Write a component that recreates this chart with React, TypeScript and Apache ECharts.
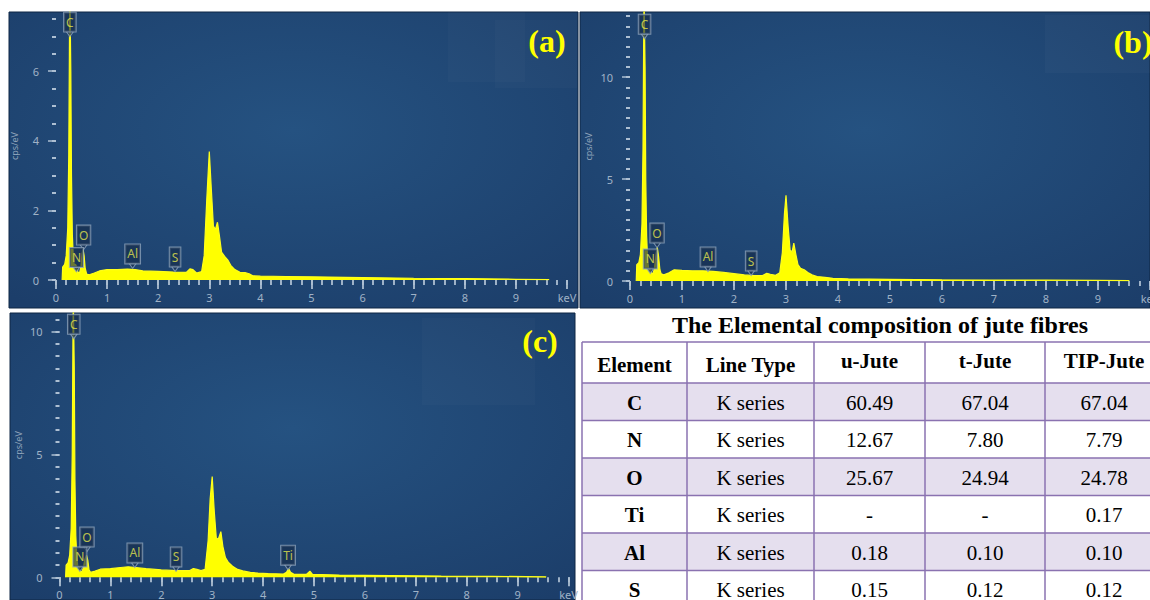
import React, { useEffect, useRef } from 'react';
import * as echarts from 'echarts';

// ---------------- data ----------------
// EDS spectra: [energy keV, counts cps/eV]
const spectrumA: [number, number][] = [
  [0.12, 0], [0.13, 0.37], [0.17, 0.45], [0.2, 0.7], [0.23, 1.5], [0.25, 3.6], [0.262, 6.5],
  [0.27, 8.5], [0.28, 8.5], [0.29, 6.0], [0.303, 3.0], [0.32, 1.3], [0.34, 0.6], [0.36, 0.42],
  [0.385, 0.45], [0.41, 0.35], [0.43, 0.22], [0.46, 0.2], [0.49, 0.4], [0.51, 0.75], [0.53, 0.88],
  [0.55, 0.7], [0.57, 0.35], [0.6, 0.17], [0.65, 0.15], [0.75, 0.2], [0.85, 0.26], [1.0, 0.3],
  [1.2, 0.3], [1.4, 0.31], [1.55, 0.3], [1.7, 0.26], [2.0, 0.25], [2.3, 0.23], [2.55, 0.22],
  [2.62, 0.32], [2.68, 0.3], [2.75, 0.2], [2.85, 0.24], [2.9, 0.7], [2.95, 2.3], [3.0, 3.69],
  [3.04, 2.6], [3.08, 1.55], [3.12, 1.45], [3.16, 1.66], [3.2, 1.25], [3.24, 0.8], [3.3, 0.68],
  [3.36, 0.58], [3.42, 0.42], [3.5, 0.3], [3.6, 0.22], [3.7, 0.21], [3.78, 0.18], [3.85, 0.12],
  [4.0, 0.11], [4.5, 0.1], [5.0, 0.09], [6.0, 0.07], [7.0, 0.05], [8.0, 0.04], [9.0, 0.02],
  [9.65, 0.01], [9.66, 0],
];
const spectrumB: [number, number][] = [
  [0.12, 0], [0.13, 0.8], [0.17, 0.9], [0.2, 1.3], [0.23, 2.8], [0.25, 6.5], [0.262, 11.5],
  [0.27, 14], [0.28, 14], [0.29, 10.5], [0.303, 5.0], [0.32, 2.2], [0.34, 1.0], [0.36, 0.6],
  [0.385, 0.55], [0.41, 0.4], [0.44, 0.35], [0.47, 0.6], [0.5, 1.3], [0.525, 1.65], [0.55, 1.2],
  [0.575, 0.55], [0.6, 0.35], [0.65, 0.3], [0.75, 0.4], [0.85, 0.55], [1.0, 0.52], [1.2, 0.5],
  [1.4, 0.5], [1.6, 0.47], [1.8, 0.42], [2.0, 0.36], [2.2, 0.3], [2.4, 0.26], [2.55, 0.27],
  [2.63, 0.38], [2.7, 0.33], [2.8, 0.28], [2.88, 0.4], [2.93, 1.4], [2.97, 3.3], [3.0, 4.2],
  [3.04, 2.7], [3.08, 1.5], [3.12, 1.45], [3.15, 1.86], [3.19, 1.3], [3.23, 0.8], [3.28, 0.62],
  [3.35, 0.55], [3.42, 0.42], [3.5, 0.3], [3.6, 0.22], [3.75, 0.18], [3.9, 0.13], [4.2, 0.1],
  [5.0, 0.08], [6.0, 0.06], [7.0, 0.05], [8.0, 0.04], [9.0, 0.03], [9.6, 0.02], [9.61, 0],
];
const spectrumC: [number, number][] = [
  [0.12, 0], [0.13, 0.5], [0.17, 0.6], [0.2, 0.9], [0.23, 2.0], [0.25, 5.0], [0.262, 9.0],
  [0.27, 11.5], [0.28, 11.5], [0.29, 8.5], [0.303, 4.0], [0.32, 1.7], [0.34, 0.8], [0.36, 0.45],
  [0.385, 0.4], [0.41, 0.25], [0.44, 0.22], [0.47, 0.4], [0.5, 0.75], [0.53, 0.9], [0.555, 0.7],
  [0.58, 0.3], [0.61, 0.2], [0.7, 0.25], [0.8, 0.33], [1.0, 0.35], [1.2, 0.4], [1.35, 0.43],
  [1.5, 0.4], [1.7, 0.35], [2.0, 0.3], [2.3, 0.27], [2.55, 0.27], [2.63, 0.36], [2.7, 0.32],
  [2.78, 0.27], [2.86, 0.32], [2.92, 1.5], [2.96, 3.2], [3.0, 4.1], [3.04, 2.7], [3.08, 1.6],
  [3.12, 1.55], [3.17, 1.86], [3.21, 1.25], [3.26, 0.8], [3.32, 0.6], [3.4, 0.45], [3.5, 0.32],
  [3.6, 0.26], [3.75, 0.2], [3.9, 0.17], [4.1, 0.15], [4.4, 0.13], [4.46, 0.2], [4.5, 0.36],
  [4.54, 0.2], [4.6, 0.13], [4.85, 0.12], [4.92, 0.25], [4.97, 0.12], [5.5, 0.09], [6.5, 0.07],
  [7.5, 0.05], [8.5, 0.04], [9.55, 0.02], [9.56, 0],
];

// peak marker labels: [energy keV, label centre height cps/eV]
const peaksA = [
  { name: 'C', value: [0.272, 7.41] }, { name: 'N', value: [0.4, 0.65] }, { name: 'O', value: [0.54, 1.29] },
  { name: 'Al', value: [1.5, 0.75] }, { name: 'S', value: [2.33, 0.66] },
];
const peaksB = [
  { name: 'C', value: [0.28, 12.6] }, { name: 'N', value: [0.39, 1.08] }, { name: 'O', value: [0.52, 2.35] },
  { name: 'Al', value: [1.5, 1.18] }, { name: 'S', value: [2.33, 0.98] },
];
const peaksC = [
  { name: 'C', value: [0.28, 10.3] }, { name: 'N', value: [0.4, 0.83] }, { name: 'O', value: [0.54, 1.64] },
  { name: 'Al', value: [1.48, 0.99] }, { name: 'S', value: [2.29, 0.83] }, { name: 'Ti', value: [4.49, 0.9] },
];

const xMajorTicks = [0, 1, 2, 3, 4, 5, 6, 7, 8, 9, 10];
const yMajorA = [0, 2, 4, 6];
const yMajorB = [0, 5, 10];
const yMajorC = [0, 5, 10];
const panelTags = ['(a)', '(b)', '(c)'];

// table
const tableTitle = 'The Elemental composition of jute fibres';
const tableHeader = ['Element', 'Line Type', 'u-Jute', 't-Jute', 'TIP-Jute'];
const elements = ['C', 'N', 'O', 'Ti', 'Al', 'S'];
const lineTypes = ['K series', 'K series', 'K series', 'K series', 'K series', 'K series'];
const uJute = ['60.49', '12.67', '25.67', '-', '0.18', '0.15'];
const tJute = ['67.04', '7.80', '24.94', '-', '0.10', '0.12'];
const tipJute = ['67.04', '7.79', '24.78', '0.17', '0.10', '0.12'];

// ---------------- helpers ----------------
function steps(max: number, step: number) {
  const out: number[] = [];
  for (let i = 0; i * step <= max + 1e-9; i++) out.push(+(i * step).toFixed(2));
  return out;
}

const tickColor = '#adbfd2';
const labelColor = '#a0b3c7';
const sans = 'Noto Sans';
const serif = '"Liberation Serif", "Times New Roman", serif';

const panels = [
  { rect: [9, 12, 569, 296], grid: { left: 56, top: 12, width: 511, height: 268 }, yMax: 7.7, yMajor: yMajorA, yMinorTop: 7.5, data: spectrumA, peaks: peaksA, tag: [547, 41] },
  { rect: [580, 12, 570, 296], grid: { left: 630, top: 12, width: 520, height: 269 }, yMax: 13.2, yMajor: yMajorB, yMinorTop: 13, data: spectrumB, peaks: peaksB, tag: [1133, 42] },
  { rect: [10, 313, 565, 287], grid: { left: 59.5, top: 313, width: 509, height: 264.3 }, yMax: 10.76, yMajor: yMajorC, yMinorTop: 10.5, data: spectrumC, peaks: peaksC, tag: [540, 341] },
];

function buildOption() {
  const grid = panels.map((p) => ({ ...p.grid, containLabel: false, outerBoundsMode: 'none' }));
  const xAxis: any[] = [];
  const yAxis: any[] = [];
  const series: any[] = [];
  const xMinor = steps(10, 0.2);

  panels.forEach((p, i) => {
    xAxis.push(
      {
        type: 'value', gridIndex: i, min: 0, max: 10, position: 'bottom', offset: 1,
        axisLine: { show: false }, splitLine: { show: false },
        axisTick: { show: true, customValues: xMajorTicks, length: 9, lineStyle: { color: tickColor, width: 1.8 } },
        axisLabel: {
          show: true, customValues: xMajorTicks, margin: 11, color: labelColor, fontSize: 11, fontFamily: sans,
          formatter: (v: number) => (v === 10 ? 'keV' : String(v)),
        },
      },
      {
        type: 'value', gridIndex: i, min: 0, max: 10, position: 'bottom', offset: 1,
        axisLine: { show: false }, splitLine: { show: false },
        axisTick: { show: true, customValues: xMinor, length: 5, lineStyle: { color: tickColor, width: 1.8 } },
        axisLabel: { show: false },
      },
    );
    yAxis.push(
      {
        type: 'value', gridIndex: i, min: 0, max: p.yMax, position: 'left', offset: 7,
        axisLine: { show: false }, splitLine: { show: false },
        axisTick: { show: true, customValues: p.yMajor, length: 8, lineStyle: { color: tickColor, width: 1.5 } },
        axisLabel: { show: true, customValues: p.yMajor, margin: 10, color: labelColor, fontSize: 11, fontFamily: sans },
        name: 'cps/eV', nameLocation: 'middle', nameGap: 30, nameRotate: 90,
        nameTextStyle: { color: '#8fa4bb', fontSize: 9, fontFamily: sans },
      },
      {
        type: 'value', gridIndex: i, min: 0, max: p.yMax, position: 'left', offset: 7,
        axisLine: { show: false }, splitLine: { show: false },
        axisTick: { show: true, customValues: steps(p.yMinorTop, 0.5), length: 4, lineStyle: { color: tickColor, width: 2 } },
        axisLabel: { show: false },
      },
    );
    series.push(
      {
        type: 'line', xAxisIndex: 2 * i, yAxisIndex: 2 * i, data: p.data, symbol: 'none', showSymbol: false,
        lineStyle: { color: '#ffff1a', width: 1.2 }, areaStyle: { color: '#ffff00', opacity: 1 },
        clip: true, z: 3, silent: true,
      },
      {
        type: 'scatter', xAxisIndex: 2 * i, yAxisIndex: 2 * i, data: p.peaks, symbol: 'triangle',
        symbolRotate: 180, symbolSize: [7, 5], symbolOffset: [0, 12], clip: false,
        itemStyle: { color: '#1c3556', borderColor: '#8ea4bc', borderWidth: 1 }, z: 4, silent: true,
      },
      {
        type: 'scatter', xAxisIndex: 2 * i, yAxisIndex: 2 * i, data: p.peaks, symbol: 'rect', symbolSize: 1, clip: false,
        itemStyle: { color: 'rgba(0,0,0,0)' }, z: 5, silent: true,
        label: {
          show: true, position: 'inside', formatter: '{b}', color: '#e6e64c', fontSize: 12, fontFamily: sans,
          backgroundColor: 'rgba(22,44,74,0.8)', borderColor: '#8ea4bc', borderWidth: 1, padding: [4, 2, 3, 2],
        },
      },
    );
  });

  const graphics: any[] = [];
  panels.forEach((p, i) => {
    const [x, y, w, h] = p.rect;
    graphics.push({
      type: 'rect', z: -10, silent: true, shape: { x, y, width: w, height: h },
      style: {
        fill: {
          type: 'radial', x: 0.5, y: 0.4, r: 0.75,
          colorStops: [{ offset: 0, color: '#255281' }, { offset: 1, color: '#1c3e6a' }],
        },
        stroke: '#0f2744', lineWidth: 1,
      },
    });
    graphics.push({
      type: 'text', z: 100, silent: true, x: p.tag[0], y: p.tag[1],
      style: { text: panelTags[i], font: `bold 32px ${serif}`, fill: '#ffff00', textAlign: 'center', textVerticalAlign: 'middle' },
    });
  });
  // faint patches at top right of panels
  graphics.push(
    { type: 'rect', z: -9, silent: true, shape: { x: 448, y: 12, width: 77, height: 70 }, style: { fill: 'rgba(255,255,255,0.02)' } },
    { type: 'rect', z: -9, silent: true, shape: { x: 495, y: 20, width: 82, height: 68 }, style: { fill: 'rgba(255,255,255,0.02)' } },
    { type: 'rect', z: -9, silent: true, shape: { x: 1045, y: 15, width: 105, height: 58 }, style: { fill: 'rgba(255,255,255,0.025)' } },
    { type: 'rect', z: -9, silent: true, shape: { x: 422, y: 318, width: 113, height: 87 }, style: { fill: 'rgba(255,255,255,0.02)' } },
  );

  // table
  const colX = [582, 687, 814, 925, 1045, 1163];
  const rowY = [342, 383, 420.5, 458, 495.5, 533, 570.5, 608];
  const border = '#8a72b0';
  graphics.push({
    type: 'text', x: 880, y: 325, silent: true,
    style: { text: tableTitle, font: `bold 24px ${serif}`, fill: '#000', textAlign: 'center', textVerticalAlign: 'middle' },
  });
  elements.forEach((_, r) => {
    if (r % 2 === 0) {
      graphics.push({
        type: 'rect', silent: true, z: 1,
        shape: { x: colX[0], y: rowY[r + 1], width: colX[5] - colX[0], height: rowY[r + 2] - rowY[r + 1] },
        style: { fill: '#e5dfee' },
      });
    }
  });
  colX.forEach((cx) => {
    graphics.push({ type: 'line', silent: true, z: 2, shape: { x1: cx, y1: rowY[0], x2: cx, y2: rowY[7] }, style: { stroke: border, lineWidth: 1.5 } });
  });
  rowY.forEach((ry) => {
    graphics.push({ type: 'line', silent: true, z: 2, shape: { x1: colX[0], y1: ry, x2: colX[5], y2: ry }, style: { stroke: border, lineWidth: 1.5 } });
  });
  const mid = (c: number) => (colX[c] + colX[c + 1]) / 2;
  tableHeader.forEach((t, c) => {
    graphics.push({
      type: 'text', silent: true, z: 3, x: mid(c), y: c < 2 ? 365 : 361,
      style: { text: t, font: `bold 21px ${serif}`, fill: '#000', textAlign: 'center', textVerticalAlign: 'middle' },
    });
  });
  const cols = [elements, lineTypes, uJute, tJute, tipJute];
  elements.forEach((_, r) => {
    const cy = (rowY[r + 1] + rowY[r + 2]) / 2 + 1;
    cols.forEach((col, c) => {
      graphics.push({
        type: 'text', silent: true, z: 3, x: mid(c), y: cy,
        style: { text: col[r], font: `${c === 0 ? 'bold ' : ''}21px ${serif}`, fill: '#000', textAlign: 'center', textVerticalAlign: 'middle' },
      });
    });
  });

  return { animation: false, grid, xAxis, yAxis, series, graphic: { elements: graphics } };
}

export default function App() {
  const ref = useRef<HTMLDivElement>(null);
  useEffect(() => {
    if (!ref.current) return;
    const chart = echarts.init(ref.current, undefined, { renderer: 'svg' });
    chart.setOption(buildOption() as any);
    return () => chart.dispose();
  }, []);
  return <div ref={ref} style={{ position: 'fixed', left: 0, top: 0, width: 1150, height: 600, background: '#fff' }} />;
}
